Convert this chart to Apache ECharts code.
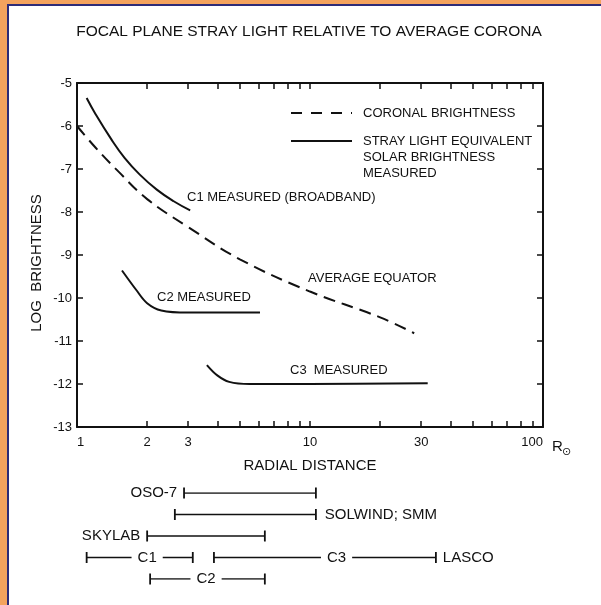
<!DOCTYPE html>
<html>
<head>
<meta charset="utf-8">
<script src="https://cdn.jsdelivr.net/npm/echarts@6/dist/echarts.min.js"></script>
<style>
html,body{margin:0;padding:0;background:#F4A35E;}
#chart{width:601px;height:605px;}
</style>
</head>
<body>
<div id="chart"></div>
<script>
// ---- data ----
const xTickValues = [2,3,4,5,6,7,8,9,10,20,30,40,50,60,70,80,90];
const xLabelValues = [1,2,3,10,30,100];
const yMin = -13, yMax = -5, yStep = 1;

const coronalR    = [1, 1.2, 1.5, 2, 3, 5, 10, 20, 28];
const coronalLogB = [-6.0, -6.5, -7.05, -7.7, -8.35, -9.1, -9.85, -10.45, -10.82];

const c1R    = [1.1, 1.2, 1.4, 1.6, 1.86, 2.2, 2.6, 3.06];
const c1LogB = [-5.35, -5.72, -6.30, -6.74, -7.13, -7.48, -7.75, -7.96];

const c2R    = [1.56, 1.8, 2.0, 2.3, 3, 6.1];
const c2LogB = [-9.36, -9.82, -10.12, -10.29, -10.34, -10.34];

const c3R    = [3.61, 4.0, 4.5, 5.5, 10, 32];
const c3LogB = [-11.56, -11.8, -11.95, -12.0, -12.0, -11.98];

const instrumentNames = ['OSO-7', 'SOLWIND; SMM', 'SKYLAB', 'C1', 'C3', 'C2'];
const instrumentRow   = [0, 1, 2, 3, 3, 4];
const instrumentFrom  = [2.88, 2.63, 2.0, 1.1, 3.87, 2.06];
const instrumentTo    = [10.6, 10.6, 6.4, 3.14, 34.7, 6.4];
const instrumentNameSide = ['left', 'right', 'left', 'middle', 'middle', 'middle'];
const instrumentNameAt   = [null, null, null, 2.0, 13.0, 3.58];
const instrumentEndLabel = [null, null, null, null, 'LASCO', null];

// ---- chart ----
const FONT = 'Liberation Sans, Arial, sans-serif';
const INK = '#111';
const chart = echarts.init(document.getElementById('chart'));

function zip(a, b) { return a.map((v, i) => [v, b[i]]); }

const barSeries = instrumentNames.map((name, i) => {
  const first = { value: [instrumentFrom[i], instrumentRow[i]] };
  const last = { value: [instrumentTo[i], instrumentRow[i]] };
  if (instrumentNameSide[i] === 'left') {
    first.label = { show: true, position: 'left', distance: 6, formatter: name };
  } else if (instrumentNameSide[i] === 'right') {
    last.label = { show: true, position: 'right', distance: 8, formatter: name };
  }
  if (instrumentEndLabel[i]) {
    last.label = { show: true, position: 'right', distance: 6, formatter: instrumentEndLabel[i] };
  }
  return {
    type: 'line', xAxisIndex: 2, yAxisIndex: 2, z: 3,
    data: [first, last],
    symbol: 'rect', symbolSize: [1.8, 11], showSymbol: true,
    lineStyle: { color: INK, width: 1.6 },
    itemStyle: { color: INK, opacity: 1 },
    label: { fontSize: 15, color: INK, fontFamily: FONT },
    silent: true
  };
});

const midLabels = [];
instrumentNames.forEach((name, i) => {
  if (instrumentNameSide[i] === 'middle') {
    midLabels.push({ name: name, value: [instrumentNameAt[i], instrumentRow[i]] });
  }
});

const axisCommon = {
  type: 'log', logBase: 10, min: 1, max: 100,
  axisLine: { show: true, onZero: false, lineStyle: { color: INK, width: 2 } },
  axisTick: { show: true, inside: true, length: 6, customValues: xTickValues, lineStyle: { color: INK, width: 1.5 } },
  minorTick: { show: false },
  splitLine: { show: false }
};

const option = {
  animation: false,
  backgroundColor: '#F4A35E',
  textStyle: { fontFamily: FONT },
  grid: [
    { left: 77, right: 58, top: 83, bottom: 178 },
    { left: 77, right: 58, top: 493, height: 86 }
  ],
  xAxis: [
    Object.assign({}, axisCommon, {
      gridIndex: 0, position: 'bottom',
      axisLabel: { customValues: xLabelValues, fontSize: 13, color: INK, margin: 9, fontFamily: FONT,
        alignMinLabel: 'left', alignMaxLabel: 'right' },
      name: 'RADIAL DISTANCE', nameLocation: 'middle', nameGap: 31,
      nameTextStyle: { fontSize: 15, color: INK, fontFamily: FONT }
    }),
    Object.assign({}, axisCommon, {
      gridIndex: 0, position: 'top',
      axisLabel: { show: false }
    }),
    { type: 'log', logBase: 10, min: 1, max: 100, gridIndex: 1, show: false }
  ],
  yAxis: [
    {
      type: 'value', gridIndex: 0, min: yMin, max: yMax, interval: yStep, position: 'left',
      axisLine: { show: true, onZero: false, lineStyle: { color: INK, width: 2 } },
      axisTick: { show: true, inside: true, length: 6, lineStyle: { color: INK, width: 1.5 } },
      axisLabel: { fontSize: 13, color: INK, margin: 5, fontFamily: FONT },
      splitLine: { show: false }
    },
    {
      type: 'value', gridIndex: 0, min: yMin, max: yMax, interval: yStep, position: 'right',
      axisLine: { show: true, onZero: false, lineStyle: { color: INK, width: 2 } },
      axisTick: { show: true, inside: true, length: 6, lineStyle: { color: INK, width: 1.5 } },
      axisLabel: { show: false },
      splitLine: { show: false }
    },
    { type: 'value', gridIndex: 1, min: 0, max: 4, inverse: true, show: false }
  ],
  series: [
    {
      name: 'Coronal brightness', type: 'line', xAxisIndex: 0, yAxisIndex: 0,
      data: zip(coronalR, coronalLogB), smooth: 0.4, showSymbol: false,
      lineStyle: { color: INK, width: 2, type: [12, 7] }
    },
    {
      name: 'C1 measured', type: 'line', xAxisIndex: 0, yAxisIndex: 0,
      data: zip(c1R, c1LogB), smooth: 0.45, showSymbol: false,
      lineStyle: { color: INK, width: 2 }
    },
    {
      name: 'C2 measured', type: 'line', xAxisIndex: 0, yAxisIndex: 0,
      data: zip(c2R, c2LogB), smooth: 0.35, showSymbol: false,
      lineStyle: { color: INK, width: 2 }
    },
    {
      name: 'C3 measured', type: 'line', xAxisIndex: 0, yAxisIndex: 0,
      data: zip(c3R, c3LogB), smooth: 0.35, showSymbol: false,
      lineStyle: { color: INK, width: 2 }
    }
  ].concat(barSeries).concat([
    {
      type: 'scatter', xAxisIndex: 2, yAxisIndex: 2, z: 6,
      data: midLabels, symbolSize: 0,
      itemStyle: { opacity: 1, color: INK },
      label: {
        show: true, position: 'inside', formatter: '{b}', fontSize: 15, color: INK,
        backgroundColor: '#fff', padding: [1, 6], fontFamily: FONT
      },
      silent: true
    }
  ]),
  graphic: [
    // page frame
    { type: 'rect', z: -100, shape: { x: 7, y: 4, width: 600, height: 610 }, style: { fill: '#2E2C78' } },
    { type: 'rect', z: -99, shape: { x: 9, y: 6, width: 600, height: 610 }, style: { fill: '#ffffff' } },
    // title
    { type: 'text', style: { text: 'FOCAL PLANE STRAY LIGHT RELATIVE TO AVERAGE CORONA', x: 309, y: 32,
      textAlign: 'center', textVerticalAlign: 'middle', font: '15.5px ' + FONT, fill: INK } },
    // y axis title
    { type: 'text', x: 37, y: 263, rotation: Math.PI / 2,
      style: { text: 'LOG  BRIGHTNESS', x: 0, y: 0, textAlign: 'center', textVerticalAlign: 'middle', font: '15px ' + FONT, fill: INK } },
    // R sun
    { type: 'text', style: { text: 'R', x: 552, y: 447, textAlign: 'left', textVerticalAlign: 'middle', font: '15px ' + FONT, fill: INK } },
    { type: 'text', style: { text: '\u2299', x: 562, y: 452, textAlign: 'left', textVerticalAlign: 'middle', font: '11px DejaVu Sans', fill: INK } },
    // legend
    { type: 'line', shape: { x1: 291, y1: 113, x2: 352, y2: 113 }, style: { stroke: INK, lineWidth: 2, lineDash: [11, 9] } },
    { type: 'text', style: { text: 'CORONAL BRIGHTNESS', x: 363, y: 113, textVerticalAlign: 'middle', font: '13px ' + FONT, fill: INK } },
    { type: 'line', shape: { x1: 291, y1: 141, x2: 352, y2: 141 }, style: { stroke: INK, lineWidth: 2 } },
    { type: 'text', style: { text: 'STRAY LIGHT EQUIVALENT', x: 363, y: 141, textVerticalAlign: 'middle', font: '13px ' + FONT, fill: INK } },
    { type: 'text', style: { text: 'SOLAR BRIGHTNESS', x: 363, y: 157, textVerticalAlign: 'middle', font: '13px ' + FONT, fill: INK } },
    { type: 'text', style: { text: 'MEASURED', x: 363, y: 173, textVerticalAlign: 'middle', font: '13px ' + FONT, fill: INK } },
    // curve annotations
    { type: 'text', style: { text: 'C1 MEASURED (BROADBAND)', x: 187, y: 197, textVerticalAlign: 'middle', font: '13px ' + FONT, fill: INK } },
    { type: 'text', style: { text: 'AVERAGE EQUATOR', x: 308, y: 278, textVerticalAlign: 'middle', font: '13px ' + FONT, fill: INK } },
    { type: 'text', style: { text: 'C2 MEASURED', x: 157, y: 297, textVerticalAlign: 'middle', font: '13px ' + FONT, fill: INK } },
    { type: 'text', style: { text: 'C3  MEASURED', x: 290, y: 370, textVerticalAlign: 'middle', font: '13px ' + FONT, fill: INK } }
  ]
};
chart.setOption(option);
</script>
</body>
</html>
